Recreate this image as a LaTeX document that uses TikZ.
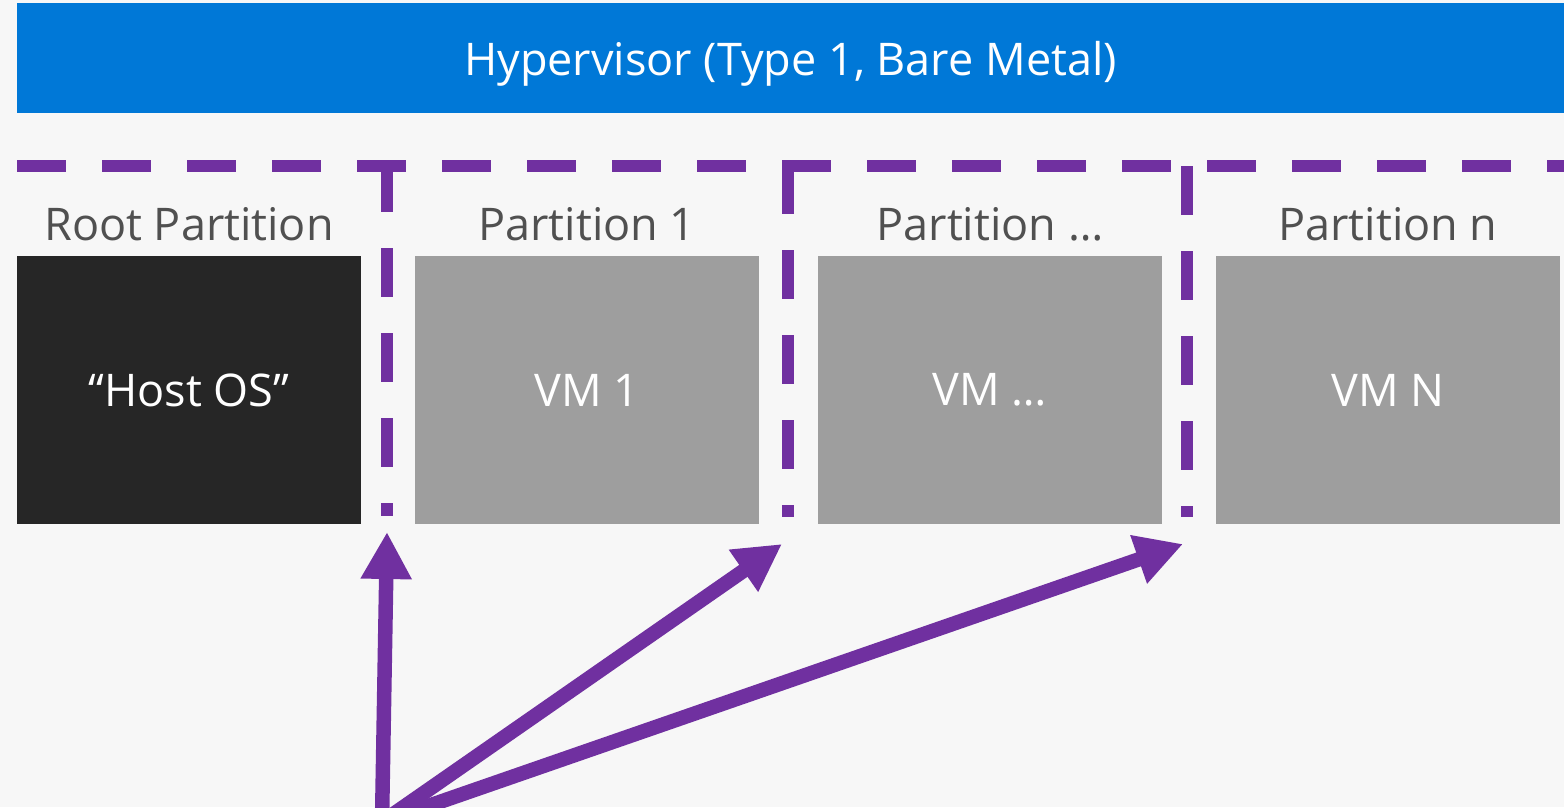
\documentclass[tikz,border=0pt]{standalone}
\usepackage{fontspec}
\setmainfont{Open Sans}
\usetikzlibrary{arrows.meta}
\definecolor{bg}{HTML}{F7F7F7}
\definecolor{hvblue}{HTML}{0078D7}
\definecolor{purp}{HTML}{7030A0}
\definecolor{lbl}{HTML}{505050}
\definecolor{hostbox}{HTML}{262626}
\definecolor{vmbox}{HTML}{9E9E9E}
\tikzset{
  bigtext/.style={font=\fontsize{45}{54}\selectfont},
  box/.style={minimum width=344pt, minimum height=268pt, inner sep=0pt, text=white, bigtext},
  plabel/.style={anchor=base, text=lbl, bigtext, inner sep=0pt},
  partline/.style={draw=purp, line width=12pt, dash pattern=on 49pt off 36pt},
  arr/.style={draw=purp, line width=14.5pt, -{Triangle[length=47pt,width=48pt]}}
}
\begin{document}
\begin{tikzpicture}[x=1pt,y=-1pt]
\useasboundingbox (0,0) rectangle (1564,807);
\clip (0,0) rectangle (1564,807);
\fill[bg] (0,0) rectangle (1564,807);
% hypervisor bar
\node[fill=hvblue, minimum width=1547pt, minimum height=110pt, inner sep=0pt, anchor=north west] (hv) at (17,3) {};
\node[anchor=base, text=white, bigtext, inner sep=0pt] (hvtext) at (790.5,75) {Hypervisor (Type 1, Bare Metal)};
% partition boxes
\node[box, fill=hostbox] (host) at (189,390) {“Host OS”};
\node[box, fill=vmbox] (vm1) at (587,390) {VM 1};
\node[box, fill=vmbox] (vmd) at (990,390) {VM …};
\node[box, fill=vmbox] (vmn) at (1388,390) {VM N};
% partition labels
\node[plabel] (lroot) at (189,240) {Root Partition};
\node[plabel] (lp1) at (587,240) {Partition 1};
\node[plabel] (lpd) at (990,240) {Partition …};
\node[plabel] (lpn) at (1388,240) {Partition n};
% dashed partition boundaries
\coordinate (hl) at (17,166);
\coordinate (hr) at (1564,166);
\draw[partline] (hl) -- (hr);
\coordinate (v1t) at (387,163);
\coordinate (v1b) at (387,516);
\coordinate (v2t) at (788,165);
\coordinate (v2b) at (788,517);
\coordinate (v3t) at (1186.5,166);
\coordinate (v3b) at (1186.5,517);
\draw[partline] (v1t) -- (v1b);
\draw[partline] (v2t) -- (v2b);
\draw[partline] (v3t) -- (v3b);
% arrows
\coordinate (src) at (382,822);
\coordinate (tip1) at (387,532);
\coordinate (tip2) at (782,544);
\coordinate (tip3) at (1183,544);
\draw[arr] (src) -- (tip1);
\draw[arr] (src) -- (tip2);
\draw[arr] (src) -- (tip3);
\end{tikzpicture}
\end{document}
